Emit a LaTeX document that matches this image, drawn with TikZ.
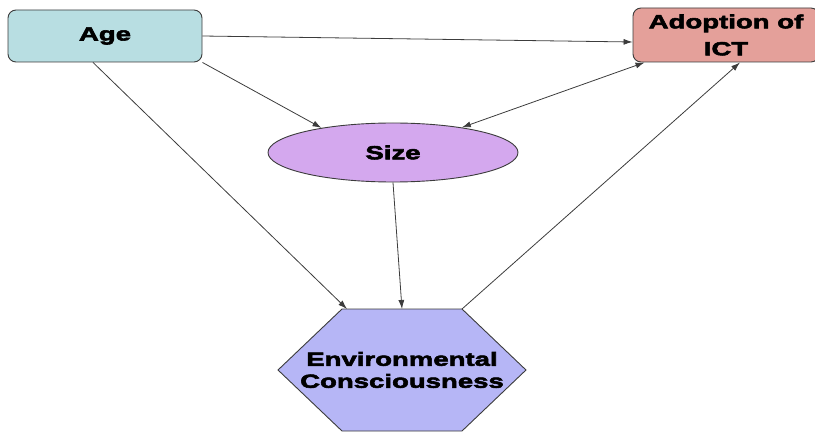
\documentclass[tikz,border=0pt]{standalone}
\usepackage{fontspec}
\newfontfamily\boxfont{Liberation Sans}[FakeStretch=1.45,BoldFeatures={FakeBold=3}]
\usepackage{tikz}
\usetikzlibrary{arrows.meta, shapes.geometric, positioning, backgrounds}
\definecolor{agecol}{RGB}{184,222,226}
\definecolor{ictcol}{RGB}{228,160,154}
\definecolor{sizecol}{RGB}{212,168,238}
\definecolor{envcol}{RGB}{182,182,246}
\definecolor{linecol}{RGB}{60,60,60}

\tikzset{
  factor/.style={draw=linecol, line width=0.9pt, text=black, align=center,
    font=\boxfont\bfseries\fontsize{19}{22}\selectfont},
  roundbox/.style={factor, rectangle, rounded corners=8pt},
  link/.style={draw=linecol, line width=0.8pt, ->}
}

\begin{document}
\begin{tikzpicture}[x=1pt, y=-1pt, >={Latex[length=9pt,width=6pt]}]
  \useasboundingbox (0,0) rectangle (815,433);

  \node[roundbox, fill=agecol, minimum width=194pt, minimum height=52pt] (age) at (105,36) {Age};
  \node[roundbox, fill=ictcol, minimum width=186pt, minimum height=54pt] (ict) at (726,35) {Adoption of\\[5pt]ICT};
  \node[factor, ellipse, fill=sizecol, minimum width=250pt, minimum height=59pt] (size) at (393,152.5) {Size};
  \node[factor, draw=none] (env) at (402,370) {Environmental\\Consciousness};

  % hexagon round the text
  \begin{scope}[on background layer, shift={(env.center)}]
    \filldraw[fill=envcol, draw=linecol, line width=0.9pt]
      (-60,-61) coordinate (envnw) -- (0,-61) coordinate (envn) -- (60,-61) coordinate (envne)
      -- (124,0) -- (60,61) -- (-60,61) -- (-124,0) -- cycle;
  \end{scope}

  \draw[link] (age.east) -- ([yshift=-7pt]ict.west);
  \draw[link] (age.south east) -- (size.161);
  \draw[link] ([xshift=-12pt]age.south) -- ([xshift=5pt]envnw);
  \draw[link] (size.south) -- (envn);
  \draw[link] (envne) -- ([xshift=14pt]ict.south);
  \draw[link, <->] ([xshift=12pt]ict.south west) -- (size.20);
\end{tikzpicture}
\end{document}
